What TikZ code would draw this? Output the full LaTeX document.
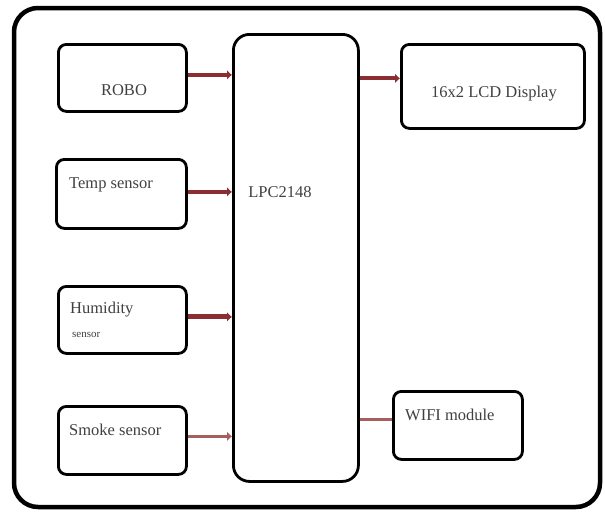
\documentclass[tikz,border=0pt]{standalone}
\usepackage{fontspec}
\setmainfont{Liberation Serif}
\usetikzlibrary{arrows.meta}
\definecolor{linkred}{RGB}{140,45,50}
\definecolor{linkpale}{RGB}{165,95,95}

\begin{document}
\begin{tikzpicture}[x=1pt,y=-1pt,
  blk/.style={draw,line width=2.8pt,rounded corners=8pt,inner sep=0pt,anchor=north west},
  lbl/.style={font=\fontsize{16.5}{18}\selectfont,text=black!75,inner sep=0pt},
  link/.style={draw=linkred,line width=4pt,-{Latex[length=5pt,width=10pt]}}]
\useasboundingbox (0,0) rectangle (605,512);
\draw[line width=4.5pt,rounded corners=24pt] (14,8) rectangle (600,507);
% blocks
\node[blk,minimum width=128pt,minimum height=67pt] (robo) at (57,43) {};
\node[blk,minimum width=130pt,minimum height=69pt] (temp) at (55,158) {};
\node[blk,minimum width=128pt,minimum height=67pt] (humid) at (57,285) {};
\node[blk,minimum width=128pt,minimum height=68pt] (smoke) at (57,405) {};
\node[blk,rounded corners=16pt,minimum width=125pt,minimum height=447pt] (lpc) at (232,33) {};
\node[blk,minimum width=183pt,minimum height=84pt] (lcd) at (400,43) {};
\node[blk,minimum width=129pt,minimum height=68pt] (wifi) at (392,390) {};
% texts
\node[lbl] (robotxt) at (124,90) {ROBO};
\node[lbl,anchor=west] (temptxt) at (69,185) {Temp sensor};
\node[lbl,anchor=west] (humidtxt) at (70,310) {Humidity};
\node[lbl,anchor=west,font=\fontsize{11}{12}\selectfont] (humidtxt2) at (72,335) {sensor};
\node[lbl,anchor=west] (smoketxt) at (69,430) {Smoke sensor};
\node[lbl] (lpctxt) at (280,192) {LPC2148};
\node[lbl] (lcdtxt) at (494,94) {16x2 LCD Display};
\node[lbl,anchor=west] (wifitxt) at (405,415) {WIFI module};
% links
\draw[link] ([yshift=3pt]robo.east) -- ([yshift=3pt]robo.east -| lpc.west);
\draw[link] ([yshift=2pt]temp.east) -- ([yshift=2pt]temp.east -| lpc.west);
\draw[link,line width=5pt] ([yshift=3pt]humid.east) -- ([yshift=3pt]humid.east -| lpc.west);
\draw[link,draw=linkpale,line width=3pt] ([yshift=4pt]smoke.east) -- ([yshift=4pt]smoke.east -| lpc.west);
\draw[link] ([yshift=8pt]lcd.west -| lpc.east) -- ([yshift=8pt]lcd.west);
\draw[draw=linkpale,line width=3pt] ([yshift=6pt]wifi.west) -- ([yshift=6pt]wifi.west -| lpc.east);
\end{tikzpicture}
\end{document}
